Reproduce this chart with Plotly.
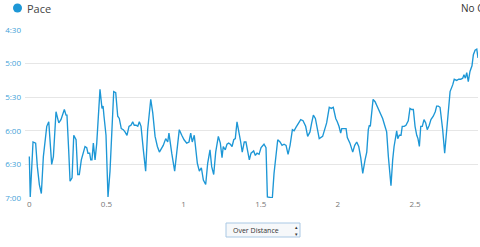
import plotly.graph_objects as go

# Distance (km/mi) and pace (seconds per unit)
distance = [0.000, 0.006, 0.024, 0.041, 0.052, 0.065, 0.078, 0.091, 0.113, 0.126,
            0.145, 0.156, 0.173, 0.191, 0.205, 0.216, 0.227, 0.238, 0.244, 0.255,
            0.264, 0.277, 0.288, 0.303, 0.314, 0.324, 0.337, 0.361, 0.372, 0.380,
            0.391, 0.398, 0.406, 0.415, 0.426, 0.437, 0.458, 0.471, 0.478, 0.484,
            0.497, 0.510, 0.523, 0.547, 0.560, 0.573, 0.583, 0.596, 0.609, 0.620,
            0.633, 0.646, 0.659, 0.670, 0.680, 0.692, 0.703, 0.713, 0.724, 0.739,
            0.754, 0.767, 0.787, 0.800, 0.815, 0.830, 0.843,
            0.868, 0.884, 0.897, 0.905, 0.923, 0.942, 0.955, 0.972, 0.988, 1.003,
            1.020, 1.035, 1.046, 1.056, 1.069, 1.089, 1.102, 1.115, 1.128, 1.143,
            1.156, 1.171, 1.182, 1.195, 1.208, 1.225, 1.238, 1.249, 1.257, 1.270,
            1.281, 1.292, 1.303, 1.314, 1.325, 1.335, 1.346, 1.357, 1.370, 1.380,
            1.393, 1.404, 1.415, 1.426, 1.437, 1.454, 1.465, 1.476, 1.489, 1.502,
            1.521, 1.534, 1.543, 1.575, 1.586, 1.610, 1.625, 1.638, 1.651, 1.664,
            1.677, 1.690, 1.705, 1.716, 1.728, 1.743, 1.759, 1.774, 1.782, 1.791,
            1.804, 1.819, 1.830, 1.841, 1.854, 1.867, 1.879,
            1.901, 1.914, 1.927, 1.944, 1.957, 1.970, 1.986, 1.996, 2.007, 2.018,
            2.025, 2.040, 2.053, 2.061, 2.078, 2.096, 2.109, 2.122, 2.135, 2.148,
            2.161, 2.176, 2.187, 2.197, 2.204, 2.210, 2.228, 2.241, 2.255, 2.273,
            2.290, 2.303, 2.316, 2.327, 2.344, 2.355, 2.364, 2.381, 2.388, 2.398,
            2.409, 2.417, 2.430, 2.441, 2.456, 2.467, 2.478, 2.489, 2.500, 2.511,
            2.519, 2.528, 2.537, 2.547, 2.558, 2.569, 2.579, 2.592, 2.603, 2.618,
            2.631, 2.640, 2.651, 2.662, 2.679, 2.692, 2.705, 2.716, 2.727, 2.744,
            2.754, 2.770, 2.783, 2.796, 2.809, 2.817, 2.826, 2.835, 2.845, 2.856,
            2.869, 2.878, 2.889, 2.900, 2.908]

pace_sec = [383, 419, 370, 371, 392, 408, 416, 383, 356, 352,
            390, 383, 343, 353, 350, 346, 341, 346, 346, 377,
            405, 402, 364, 368, 399, 399, 386, 374, 375, 380,
            380, 386, 386, 371, 386, 371, 323, 340, 338, 347,
            364, 419, 396, 325, 326, 347, 349, 358, 359, 361,
            364, 356, 355, 352, 355, 355, 356, 352, 356, 377,
            396, 359, 332, 344, 365, 374, 379,
            373, 367, 370, 362, 380, 396, 380, 359, 364, 368,
            371, 370, 362, 370, 364, 389, 396, 393, 404, 408,
            389, 377, 392, 399, 379, 365, 371, 384, 374, 377,
            372, 371, 372, 374, 368, 367, 352, 359, 370, 379,
            370, 370, 380, 386, 380, 378, 382, 380, 381, 375,
            372, 375, 419, 420, 398, 368, 370, 373, 372, 373,
            381, 373, 359, 360, 357, 353, 350, 351, 353, 356,
            365, 361, 353, 346, 349, 359, 367,
            365, 359, 353, 339, 340, 339, 349, 352, 356, 362,
            358, 358, 358, 366, 371, 379, 373, 370, 374, 384,
            398, 386, 379, 359, 355, 356, 332, 334, 338, 344,
            349, 355, 361, 383, 409, 386, 374, 360, 367, 364,
            364, 356, 356, 355, 351, 340, 341, 341, 356, 364,
            367, 374, 356, 356, 350, 353, 359, 355, 350, 347,
            343, 338, 338, 339, 359, 380, 362, 341, 325, 319,
            314, 315, 314, 314, 313, 310, 313, 308, 316, 307,
            302, 292, 288, 287, 295]

y_tick_vals = [270, 300, 330, 360, 390, 420]
y_tick_text = ["4:30", "5:00", "5:30", "6:00", "6:30", "7:00"]
x_tick_vals = [0, 0.5, 1, 1.5, 2, 2.5]
x_tick_text = ["0", "0.5", "1", "1.5", "2", "2.5"]

LINE = "#1d97d6"
W, H = 480, 247
ML, MR, MT, MB = 25, 2, 30, 49
PW, PH = W - ML - MR, H - MT - MB


def px(x):
    return (x - ML) / PW


def py(y):
    return (H - MB - y) / PH


fig = go.Figure()
fig.add_trace(go.Scatter(x=distance, y=pace_sec, mode="lines",
                         line=dict(color=LINE, width=1.35), showlegend=False,
                         hoverinfo="skip"))

fig.update_layout(
    width=W, height=H,
    margin=dict(l=ML, r=MR, t=MT, b=MB),
    paper_bgcolor="white", plot_bgcolor="white",
    font=dict(family="Open Sans", size=8, color="#777"),
    xaxis=dict(range=[-0.028, 2.908], tickvals=x_tick_vals, ticktext=x_tick_text,
               showgrid=False, zeroline=False, showline=False, ticks="",
               tickfont=dict(size=8, color="#777")),
    yaxis=dict(range=[420, 270], tickvals=y_tick_vals, ticktext=y_tick_text,
               showgrid=True, gridcolor="#e6e6e6", gridwidth=1, zeroline=False,
               showline=False, ticks="", ticklabelstandoff=3,
               tickfont=dict(size=8, color="#3f9fd8")),
)

# legend marker and label
fig.add_shape(type="circle", xref="paper", yref="paper",
              x0=px(13), x1=px(22), y0=py(12.5), y1=py(3.5),
              line=dict(color=LINE, width=0), fillcolor=LINE)
fig.add_annotation(xref="paper", yref="paper", x=px(25), y=py(8),
                   xanchor="left", yanchor="middle", showarrow=False,
                   text="Pace",
                   font=dict(size=11, color="#444", family="Open Sans"))
fig.add_annotation(xref="paper", yref="paper", x=px(459), y=py(8),
                   xanchor="left", yanchor="middle", showarrow=False,
                   text="No Comparison",
                   font=dict(size=10, color="#333", family="Open Sans"))

# dropdown box
fig.add_shape(type="rect", xref="paper", yref="paper",
              x0=px(226), x1=px(300), y0=py(237), y1=py(223),
              line=dict(color="#a9c8e4", width=1), fillcolor="#f6f8fa")
fig.add_annotation(xref="paper", yref="paper", x=px(231), y=py(230),
                   xanchor="left", yanchor="middle", showarrow=False,
                   text="Over Distance",
                   font=dict(size=7, color="#333", family="Open Sans"))
fig.add_annotation(xref="paper", yref="paper", x=px(296), y=py(230),
                   xanchor="center", yanchor="middle", showarrow=False,
                   text="▴<br>▾",
                   font=dict(size=5, color="#333", family="DejaVu Sans"))

fig.write_html("out.html")
